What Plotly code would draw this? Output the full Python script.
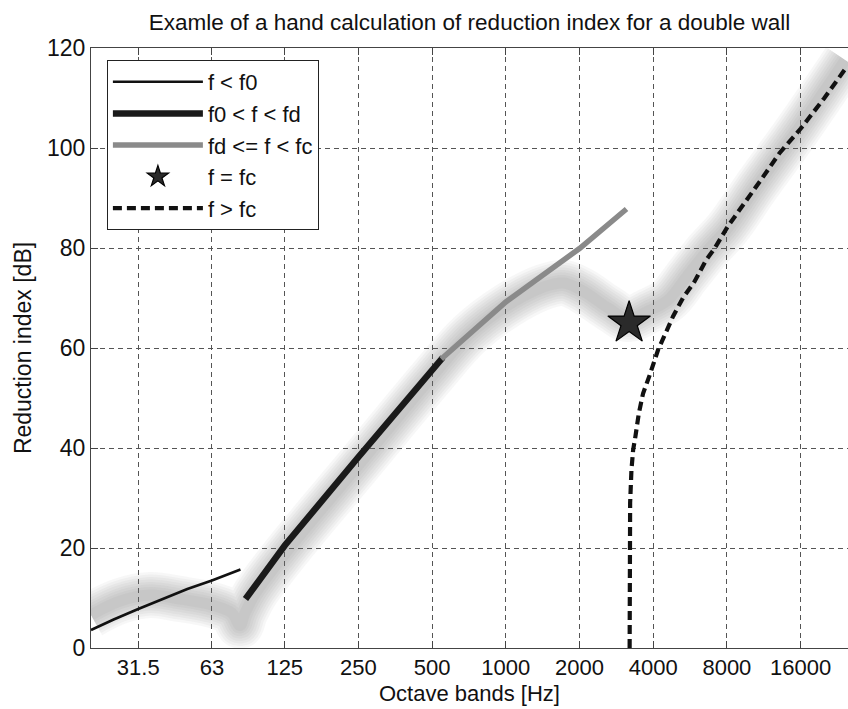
import plotly.graph_objects as go

# Octave band tick labels
band_vals = [31.5, 63, 125, 250, 500, 1000, 2000, 4000, 8000, 16000]
band_text = ["31.5", "63", "125", "250", "500", "1000", "2000", "4000", "8000", "16000"]

# f < f0 : mass-spring region below resonance
f_low = [20.2, 25, 31.5, 40, 50, 63, 75, 82.4]
r_low = [3.6, 5.7, 7.8, 9.9, 11.8, 13.5, 15.0, 15.7]

# f0 < f < fd
f_mid = [86.4, 125, 250, 500, 553]
r_mid = [9.8, 20.5, 38.2, 55.5, 58.1]

# fd <= f < fc
f_high = [545, 1000, 2000, 3112]
r_high = [57.8, 69.2, 79.9, 87.8]

# f = fc
f_crit = [3190]
r_crit = [65.0]

# f > fc
f_above = [3205, 3212, 3220, 3260, 3312, 3384, 3494, 3636, 3812, 3872, 4186, 4819,
           5290, 5904, 6581, 7120, 8064, 9441, 11018, 13091, 16030, 19952, 24775]
r_above = [0.0, 15.0, 29.0, 35.6, 39.6, 42.3, 46.9, 50.9, 53.6, 54.6, 59.6, 66.3,
           70.0, 73.3, 77.6, 79.9, 84.3, 88.9, 93.6, 98.9, 103.9, 109.9, 116.3]

# Measured curve, drawn as a soft grey band
f_meas = [20.2, 26.6, 35.2, 46.7, 63, 76, 82, 86, 95, 126, 249.6, 504, 706, 1008,
          1425, 1720, 2032, 2620, 3160, 3812, 4597, 5544, 6687, 8064, 10676, 15536, 24350]
r_meas = [6.6, 9.4, 10.6, 9.8, 8.6, 7.0, 4.5, 7.0, 11.0, 19.0, 36.5, 54.5, 62.6, 68.4,
          72.2, 73.0, 71.6, 68.0, 65.8, 67.4, 69.6, 74.6, 79.6, 84.0, 92.6, 103.6, 117.6]

FONT = "Liberation Sans, Arial, Helvetica, sans-serif"

fig = go.Figure()

for w in [46, 41, 36, 31, 26, 21, 16, 11]:
    fig.add_trace(go.Scatter(
        x=f_meas, y=r_meas, mode="lines",
        line=dict(color="rgba(115,115,115,0.055)", width=w, shape="spline", smoothing=1.0),
        showlegend=False, hoverinfo="skip"))

fig.add_trace(go.Scatter(x=f_low, y=r_low, mode="lines", name="f < f0",
                         line=dict(color="#111111", width=2.6)))
fig.add_trace(go.Scatter(x=f_mid, y=r_mid, mode="lines", name="f0 < f < fd",
                         line=dict(color="#1a1a1a", width=6.5)))
fig.add_trace(go.Scatter(x=f_high, y=r_high, mode="lines", name="fd <= f < fc",
                         line=dict(color="#8a8a8a", width=5.5)))
fig.add_trace(go.Scatter(x=f_crit, y=r_crit, mode="markers", name="f = fc",
                         marker=dict(symbol="star", size=32, color="#2a2a2a",
                                     line=dict(color="#000000", width=1.2))))
fig.add_trace(go.Scatter(x=f_above, y=r_above, mode="lines", name="f > fc",
                         line=dict(color="#111111", width=4.2, dash="9px,5px")))

fig.update_layout(
    width=848, height=709,
    margin=dict(l=91, r=0, t=48, b=61),
    paper_bgcolor="white", plot_bgcolor="white",
    font=dict(family=FONT, size=22, color="#111111"),
    title=dict(text="Examle of a hand calculation of reduction index for a double wall",
               x=0.5, xref="paper", xanchor="center",
               y=1 - 22 / 709, yref="container", yanchor="middle",
               font=dict(family=FONT, size=22.5, color="#111111")),
    legend=dict(x=0.021, y=0.98, xanchor="left", yanchor="top",
                bgcolor="white", bordercolor="#222222", borderwidth=1,
                font=dict(family=FONT, size=22, color="#111111"),
                tracegroupgap=6, itemwidth=90),
    showlegend=True,
)

fig.update_xaxes(
    type="log", range=[1.3054, 4.3979],
    tickvals=band_vals, ticktext=band_text,
    showgrid=True, gridcolor="#555555", gridwidth=1, griddash="5px,4px",
    showline=True, linecolor="#444444", linewidth=1, mirror="ticks",
    ticks="inside", ticklen=7, tickcolor="#444444",
    zeroline=False,
    title=dict(text="Octave bands [Hz]", standoff=6, font=dict(family=FONT, size=22)),
    tickfont=dict(family=FONT, size=22, color="#111111"),
)
fig.update_yaxes(
    range=[0, 120], dtick=20,
    showgrid=True, gridcolor="#555555", gridwidth=1, griddash="5px,4px",
    showline=True, linecolor="#444444", linewidth=1, mirror=False,
    ticks="inside", ticklen=7, tickcolor="#444444",
    zeroline=False,
    title=dict(text="Reduction index [dB]", standoff=8, font=dict(family=FONT, size=23)),
    tickfont=dict(family=FONT, size=23, color="#111111"),
)

fig.write_html("out.html")
